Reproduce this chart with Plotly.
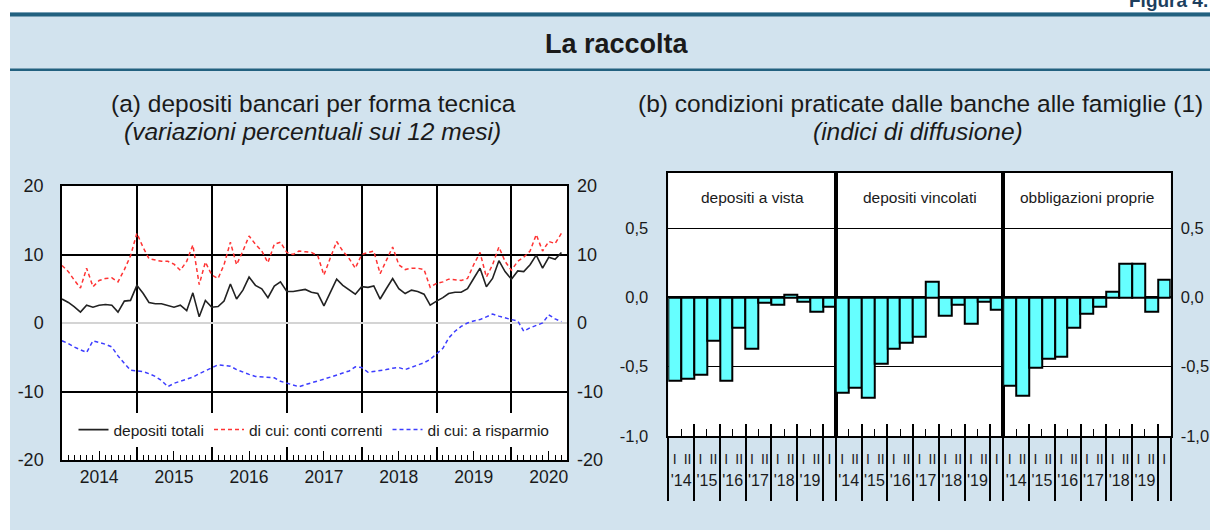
import plotly.graph_objects as go
import pandas as pd

W, H = 1210, 530
FONT = "Liberation Sans, Arial, sans-serif"
TXT = "#1a1a1a"
BG = "#d2e3ee"
TEAL = "#22617f"
CYAN = "#66ffff"

# ---------------- data: panel (a) ----------------
months = [d.strftime("%Y-%m-%d") for d in pd.date_range("2014-01-01", "2020-09-01", freq="MS")]
depositi_totali = [3.5, 3.0, 2.4, 1.6, 2.6, 2.3, 2.6, 2.7, 2.6, 1.6, 3.2, 3.3,
                   5.5, 4.3, 3.0, 2.8, 2.8, 2.6, 2.3, 2.6, 1.8, 4.4, 0.9, 3.3,
                   2.3, 2.4, 3.2, 5.7, 3.5, 4.8, 6.7, 5.5, 5.0, 3.7, 5.4, 6.0,
                   4.6, 4.6, 4.7, 4.9, 4.5, 4.3, 2.5, 4.5, 6.4, 5.5, 4.9, 4.2,
                   5.3, 5.2, 5.4, 3.5, 5.0, 6.5, 5.0, 4.3, 4.8, 4.6, 4.2, 2.6,
                   3.2, 3.7, 4.3, 4.5, 4.5, 5.0, 6.5, 8.0, 5.3, 6.5, 9.1, 7.5,
                   6.4, 7.6, 7.5, 8.5, 9.9, 8.0, 9.6, 9.3, 10.3]
conti_correnti = [8.4, 7.5, 6.3, 5.1, 8.0, 5.3, 6.2, 6.5, 6.6, 6.0, 7.8, 9.8,
                  13.1, 11.0, 9.4, 9.2, 9.0, 9.0, 8.6, 7.7, 9.0, 11.4, 5.6, 8.9,
                  7.0, 6.5, 8.5, 11.8, 8.5, 10.5, 12.7, 11.5, 10.5, 8.8, 11.5, 11.8,
                  10.3, 10.0, 10.5, 10.4, 10.3, 9.8, 7.0, 9.5, 11.9, 10.5, 9.4, 8.0,
                  10.0, 10.3, 10.5, 7.2, 9.0, 11.1, 8.5, 7.8, 8.0, 8.0, 7.8, 5.2,
                  5.8, 6.0, 6.4, 6.3, 6.2, 6.5, 8.5, 10.3, 6.7, 8.5, 11.1, 9.0,
                  7.7, 9.0, 9.6, 10.5, 12.9, 10.5, 11.9, 11.6, 13.1]
risparmio = [-2.6, -3.0, -3.5, -3.9, -4.3, -2.6, -2.8, -3.1, -3.5, -4.8, -5.9, -6.9,
             -7.0, -7.1, -7.4, -7.8, -8.4, -9.3, -8.8, -8.5, -8.2, -7.9, -7.4, -7.0,
             -6.6, -6.1, -6.2, -6.3, -6.8, -7.2, -7.5, -7.8, -7.9, -8.0, -8.0, -8.5,
             -8.8, -9.0, -9.3, -9.0, -8.7, -8.5, -8.2, -7.9, -7.6, -7.3, -7.0, -6.4,
             -6.5, -7.2, -7.1, -7.0, -6.8, -6.6, -6.5, -6.8, -6.5, -6.1, -5.8, -5.3,
             -4.5, -3.7, -2.2, -1.2, -0.5, 0.0, 0.3, 0.5, 0.9, 1.3, 1.0, 0.7,
             0.5, 0.3, -1.2, -0.7, -0.4, 0.0, 1.2, 0.6, 0.2]
series_names = ["depositi totali", "di cui: conti correnti", "di cui: a risparmio"]
years_a = ["2014", "2015", "2016", "2017", "2018", "2019", "2020"]
year_mid = [f"{y}-07-01" for y in years_a]
year_start = [f"{y}-01-01" for y in years_a[1:]]
yticks_a = [-20, -10, 0, 10, 20]
yticktext_a = ["-20", "-10", "0", "10", "20"]

# ---------------- data: panel (b) ----------------
sub_titles = ["depositi a vista", "depositi vincolati", "obbligazioni proprie"]
sem_labels = ["I", "II"] * 6 + ["I"]
year_labels_b = ["'14", "'15", "'16", "'17", "'18", "'19"]
depositi_vista = [-0.60, -0.59, -0.56, -0.31, -0.60, -0.22, -0.37, -0.04, -0.05, 0.02, -0.03, -0.10, -0.07]
depositi_vincolati = [-0.69, -0.65, -0.72, -0.48, -0.37, -0.33, -0.28, 0.11, -0.13, -0.05, -0.19, -0.03, -0.09]
obbligazioni_proprie = [-0.64, -0.71, -0.51, -0.44, -0.43, -0.22, -0.12, -0.07, 0.04, 0.24, 0.24, -0.10, 0.13]
panel_b = [depositi_vista, depositi_vincolati, obbligazioni_proprie]
yticks_b = [-1.0, -0.5, 0.0, 0.5]
yticktext_b = ["-1,0", "-0,5", "0,0", "0,5"]


def px(x):
    return x / W


def py(y):
    return 1 - y / H


fig = go.Figure()

# panel (a) lines
styles = [dict(color="#222222", width=1.6),
          dict(color="#ff3333", width=1.5, dash="4px,3px"),
          dict(color="#3d3dff", width=1.5, dash="4px,3px")]
for name, vals, st in zip(series_names, [depositi_totali, conti_correnti, risparmio], styles):
    fig.add_trace(go.Scatter(x=months, y=vals, mode="lines", name=name, line=st,
                             xaxis="x", yaxis="y", hoverinfo="skip"))


def ghost(xa, ya):
    fig.add_trace(go.Scatter(x=[None], y=[None], xaxis=xa, yaxis=ya, showlegend=False,
                             hoverinfo="skip", mode="markers"))


ghost("x2", "y")
ghost("x", "y2")

# panel (b) bars
nb = len(depositi_vista)
idx = list(range(nb))
for i, vals in enumerate(panel_b):
    fig.add_trace(go.Bar(x=idx, y=vals, xaxis=f"x{3 + i}", yaxis="y3", showlegend=False,
                         marker=dict(color=CYAN, line=dict(color="black", width=2)),
                         hoverinfo="skip"))
    ghost(f"x{6 + i}", "y3")
    ghost(f"x{9 + i}", "y3")
ghost("x5", "y4")

lay = dict(
    width=W, height=H, margin=dict(l=0, r=0, t=0, b=0, pad=0, autoexpand=False),
    paper_bgcolor=BG, plot_bgcolor="white",
    font=dict(family=FONT, color=TXT, size=14),
    bargap=0, showlegend=True,
    legend=dict(orientation="h", x=px(314), xanchor="center", y=py(447), yanchor="bottom",
                bgcolor="white", borderwidth=0, font=dict(size=15.5, color=TXT),
                itemwidth=30, tracegroupgap=0),
)

# panel (a) axes
A_DOM_X = [px(62), px(567)]
A_DOM_Y = [py(460), py(186)]
rng_a = ["2014-01-01", "2020-09-28"]
lay["xaxis"] = dict(domain=A_DOM_X, anchor="y", type="date", range=rng_a,
                    tickmode="array", tickvals=year_start, showticklabels=False,
                    ticks="inside", ticklen=13, tickwidth=1.5, tickcolor="black",
                    showgrid=True, gridcolor="black", gridwidth=1.5, zeroline=False,
                    showline=True, mirror=True, linecolor="black", linewidth=1.5,
                    minor=dict(tickmode="array", tickvals=months, ticks="inside", ticklen=5,
                               tickwidth=1, tickcolor="black", showgrid=False),
                    automargin=False, fixedrange=True)
lay["xaxis2"] = dict(overlaying="x", anchor="y", type="date", range=rng_a, side="bottom",
                     tickmode="array", tickvals=year_mid, ticktext=years_a,
                     ticks="inside", ticklen=9, tickwidth=1.2, tickcolor="black",
                     ticklabelstandoff=4, tickfont=dict(size=17.5, color=TXT),
                     showgrid=False, zeroline=False, showline=False,
                     automargin=False, fixedrange=True)
lay["yaxis"] = dict(domain=A_DOM_Y, anchor="x", range=[-20, 20], tickmode="array",
                    tickvals=yticks_a, ticktext=yticktext_a, ticks="",
                    ticklabelstandoff=13, tickfont=dict(size=18, color=TXT),
                    showgrid=True, gridcolor="black", gridwidth=1.5,
                    zeroline=True, zerolinecolor="#d4d4d4", zerolinewidth=1.5,
                    showline=True, mirror=True, linecolor="black", linewidth=1.5,
                    automargin=False, fixedrange=True)
lay["yaxis2"] = dict(overlaying="y", anchor="x", side="right", range=[-20, 20],
                     tickmode="array", tickvals=yticks_a, ticktext=yticktext_a, ticks="",
                     ticklabelstandoff=9, tickfont=dict(size=18, color=TXT),
                     showgrid=False, zeroline=False, showline=False,
                     automargin=False, fixedrange=True)

# panel (b) axes
B_LEFT, B_RIGHT = 668.3, 1170.7
sw = (B_RIGHT - B_LEFT) / 3
B_DOM_Y = [py(436), py(172.7)]
rng_b = [-0.5, nb - 0.5]
mid_ticks = [2 * k + 0.5 for k in range(len(year_labels_b))]
bound_ticks = [2 * k + 1.5 for k in range(len(year_labels_b))]
edge_ticks = [-0.5] + bound_ticks + [nb - 0.5]
for i in range(3):
    dom = [px(B_LEFT + i * sw), px(B_LEFT + (i + 1) * sw)]
    lay[f"xaxis{3 + i}"] = dict(domain=dom, anchor="y3", range=rng_b, tickmode="array",
                                tickvals=idx, ticktext=sem_labels, ticks="",
                                ticklabelstandoff=9, tickfont=dict(size=14, color=TXT),
                                showgrid=False, zeroline=False,
                                showline=True, mirror=True, linecolor="black", linewidth=1.5,
                                minor=dict(tickmode="array", tickvals=mid_ticks, ticks="inside",
                                           ticklen=7, tickwidth=1.2, tickcolor="black",
                                           showgrid=False),
                                automargin=False, fixedrange=True)
    lay[f"xaxis{6 + i}"] = dict(overlaying=f"x{3 + i}", anchor="y3", range=rng_b,
                                tickmode="array", tickvals=mid_ticks, ticktext=year_labels_b,
                                ticks="", ticklabelstandoff=33,
                                tickfont=dict(size=16, color=TXT),
                                showgrid=False, zeroline=False, showline=False,
                                minor=dict(tickmode="array", tickvals=edge_ticks, ticks="outside",
                                           ticklen=64, tickwidth=1.5, tickcolor="black",
                                           showgrid=False),
                                automargin=False, fixedrange=True)
    lay[f"xaxis{9 + i}"] = dict(overlaying=f"x{3 + i}", anchor="y3", range=rng_b,
                                tickmode="array", tickvals=bound_ticks, showticklabels=False,
                                ticks="inside", ticklen=12, tickwidth=1.5, tickcolor="black",
                                showgrid=False, zeroline=False, showline=False,
                                automargin=False, fixedrange=True)
lay["yaxis3"] = dict(domain=B_DOM_Y, anchor="x3", range=[-1.0, 0.9], tickmode="array",
                     tickvals=yticks_b, ticktext=yticktext_b, ticks="",
                     ticklabelstandoff=15, tickfont=dict(size=16.5, color=TXT),
                     showgrid=True, gridcolor="black", gridwidth=1.2,
                     zeroline=True, zerolinecolor="black", zerolinewidth=1.5,
                     showline=True, mirror="all", linecolor="black", linewidth=1.5,
                     automargin=False, fixedrange=True)
lay["yaxis4"] = dict(overlaying="y3", anchor="x5", side="right", range=[-1.0, 0.9],
                     tickmode="array", tickvals=yticks_b, ticktext=yticktext_b, ticks="",
                     ticklabelstandoff=9, tickfont=dict(size=16.5, color=TXT),
                     showgrid=False, zeroline=False, showline=False,
                     automargin=False, fixedrange=True)

# decorations
shapes = [
    dict(type="rect", xref="paper", yref="paper", x0=0, x1=1, y0=py(12), y1=1,
         fillcolor="white", line=dict(width=0), layer="below"),
    dict(type="rect", xref="paper", yref="paper", x0=0, x1=px(10), y0=0, y1=1,
         fillcolor="white", line=dict(width=0), layer="below"),
    dict(type="rect", xref="paper", yref="paper", x0=px(10), x1=1, y0=py(16.5), y1=py(12.5),
         fillcolor=TEAL, line=dict(width=0), layer="below"),
    dict(type="rect", xref="paper", yref="paper", x0=px(10), x1=1, y0=py(71), y1=py(68.5),
         fillcolor=TEAL, line=dict(width=0), layer="below"),
]
lay["shapes"] = shapes

ann = [
    dict(text="<b>Figura 4.</b>", x=1.0, xanchor="right", y=py(13), yanchor="bottom",
         font=dict(size=19, color="#1d3f5e")),
    dict(text="<b>La raccolta</b>", x=px(617), y=py(44), xanchor="center", yanchor="middle",
         font=dict(size=27, color=TXT)),
    dict(text="(a) depositi bancari per forma tecnica", x=px(313), y=py(104),
         xanchor="center", yanchor="middle", font=dict(size=24.5, color=TXT)),
    dict(text="<i>(variazioni percentuali sui 12 mesi)</i>", x=px(312), y=py(131),
         xanchor="center", yanchor="middle", font=dict(size=24.5, color=TXT)),
    dict(text="(b) condizioni praticate dalle banche alle famiglie (1)", x=px(920), y=py(104),
         xanchor="center", yanchor="middle", font=dict(size=24.5, color=TXT)),
    dict(text="<i>(indici di diffusione)</i>", x=px(918), y=py(131),
         xanchor="center", yanchor="middle", font=dict(size=24.5, color=TXT)),
]
for i, t in enumerate(sub_titles):
    ann.append(dict(text=t, xref=f"x{3 + i} domain", x=0.5, yref="y3", y=0.72,
                    xanchor="center", yanchor="middle", showarrow=False,
                    font=dict(size=15.5, color=TXT)))
for a in ann:
    a.setdefault("xref", "paper")
    a.setdefault("yref", "paper")
    a["showarrow"] = False
lay["annotations"] = ann

fig.update_layout(**lay)
fig.write_html("out.html", config={"displayModeBar": False},
               post_script="document.body.style.margin='0';document.body.style.overflow='hidden';")
